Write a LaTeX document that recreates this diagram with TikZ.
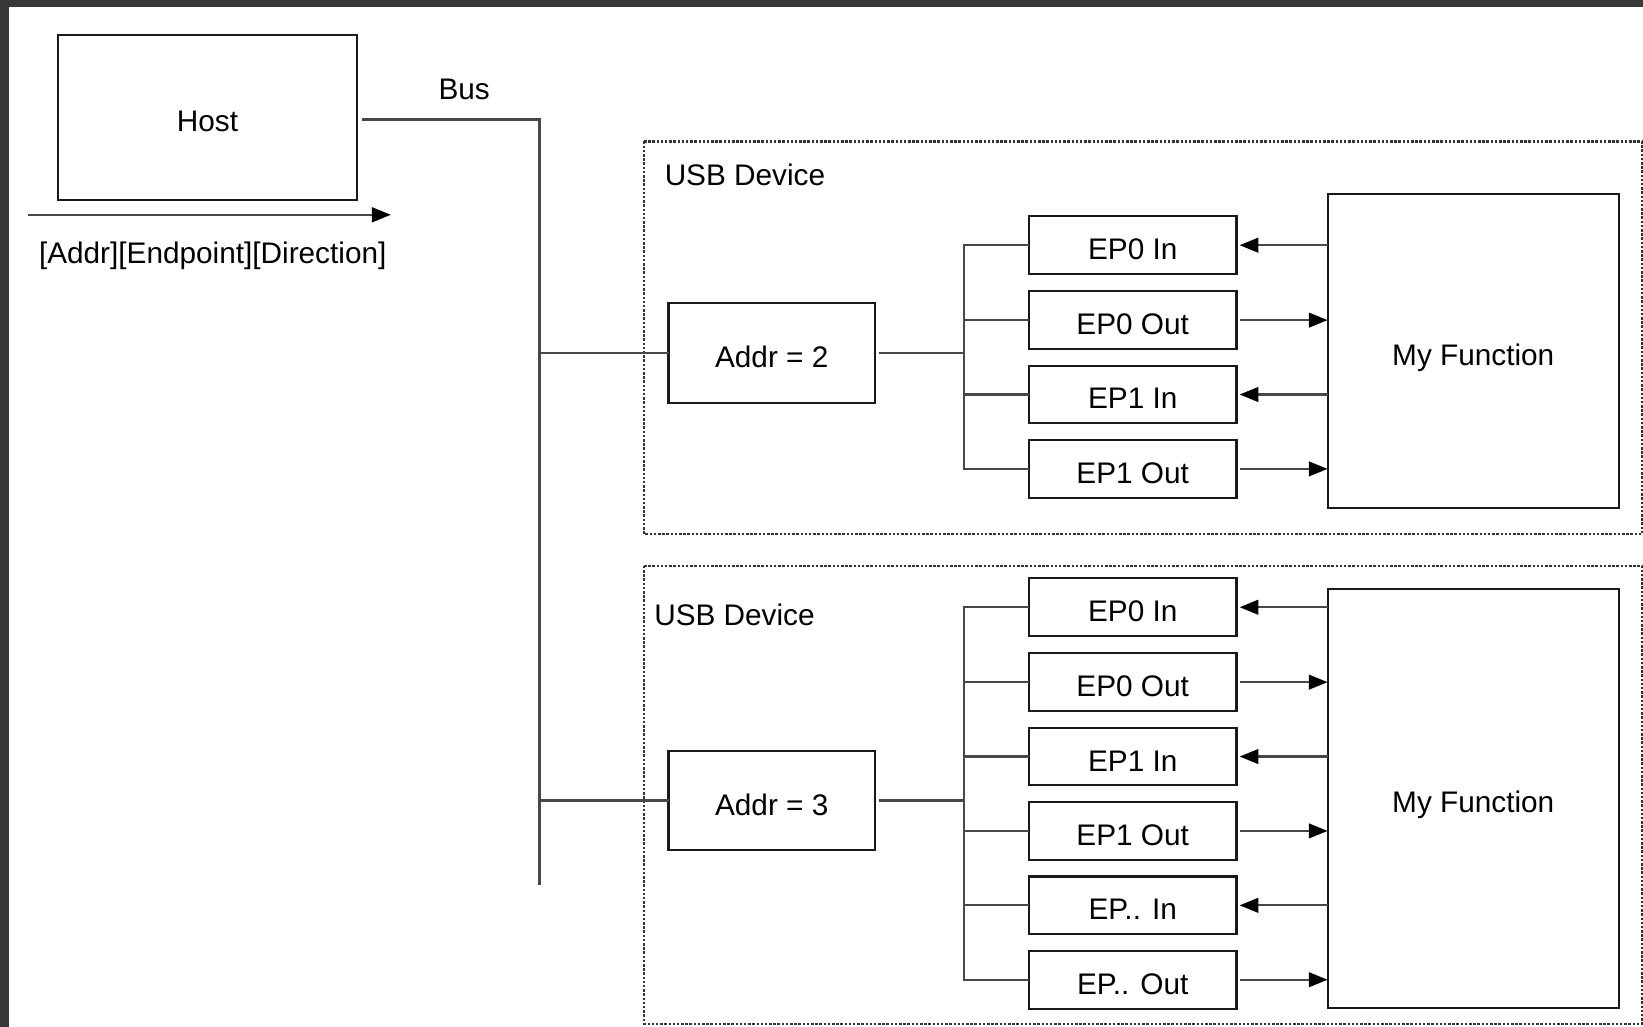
\documentclass[tikz,border=0pt]{standalone}
\usepackage{fontspec}
\setmainfont{Liberation Sans}
\usetikzlibrary{arrows.meta}
\begin{document}
\begin{tikzpicture}[x=0.5pt,y=-0.5pt,
  box/.style={draw=black!90,line width=1pt,fill=white,inner sep=0pt,outer sep=0pt,font=\fontsize{14.2}{16}\selectfont,text height=13.8pt,text depth=0pt},
  epbox/.style={box,minimum width=99pt,minimum height=27.5pt},
  addrbox/.style={box,minimum width=98.5pt,minimum height=47.5pt},
  funcbox/.style={box,minimum width=139pt},
  wire/.style={draw=black!72,line width=1.1pt},
  arr/.style={wire,-{Triangle[length=9pt,width=7pt,color=black,fill=black]}},
  devbox/.style={draw=black!80,line width=1pt,dash pattern=on 1.2pt off 0.8pt},
  lbl/.style={font=\fontsize{14.2}{16}\selectfont,inner sep=0pt}
]
\fill[black!78] (0,0) rectangle (1568,980);
\fill[white] (9,7) rectangle (1568,980);
\useasboundingbox (0,0) rectangle (1568,980);

% device frames
\draw[devbox] (615,135) rectangle (1567,510);
\draw[devbox] (615,540) rectangle (1567,977);

% host and bus
\node[box,minimum width=143pt,minimum height=78.5pt] (host) at (198,112) {Host};
\node[lbl] (buslbl) at (443,85) {Bus};
\coordinate (buscorner) at (515,114);
\coordinate (busend) at (515,845);
\draw[wire,shorten <=2pt] (host.east |- buscorner) -- (buscorner) -- (busend);

\coordinate (arrs) at (27,205);
\coordinate (arre) at (373,205);
\draw[arr] (arrs) -- (arre);
\node[lbl] (dirlbl) at (203,244) {[Addr][Endpoint][Direction]};

% ---- device 1
\node[lbl,anchor=west] (dev1) at (634,167) {USB Device};
\node[addrbox] (addr2) at (736.5,337) {Addr = 2};
\coordinate (b1) at (515,337);
\coordinate (j1) at (920,337);
\draw[wire] (b1) -- (addr2.west);
\draw[wire,shorten <=2pt] (addr2.east) -- (j1);

\node[epbox] (a0in) at (1081,234) {EP0 In};
\node[epbox] (a0out) at (1081,305.5) {EP0 Out};
\node[epbox] (a1in) at (1081,376.5) {EP1 In};
\node[epbox] (a1out) at (1081,447.5) {EP1 Out};
\foreach \n in {a0in,a0out,a1in,a1out} \draw[wire] (\n.west) -| (j1);

\node[funcbox,minimum height=150pt] (fn1) at (1406,335) {My Function};
\draw[arr] (fn1.west |- a0in) -- ([xshift=1.5pt]a0in.east);
\draw[arr,shorten <=1.5pt] (a0out.east) -- (fn1.west |- a0out);
\draw[arr] (fn1.west |- a1in) -- ([xshift=1.5pt]a1in.east);
\draw[arr,shorten <=1.5pt] (a1out.east) -- (fn1.west |- a1out);

% ---- device 2
\node[lbl,anchor=west] (dev2) at (624,587) {USB Device};
\node[addrbox] (addr3) at (736.5,764) {Addr = 3};
\coordinate (b2) at (515,764);
\coordinate (j2) at (920,764);
\draw[wire] (b2) -- (addr3.west);
\draw[wire,shorten <=2pt] (addr3.east) -- (j2);

\node[epbox] (c0in) at (1081,579.5) {EP0 In};
\node[epbox] (c0out) at (1081,651) {EP0 Out};
\node[epbox] (c1in) at (1081,722) {EP1 In};
\node[epbox] (c1out) at (1081,793) {EP1 Out};
\node[epbox] (cxin) at (1081,864) {EP.. In};
\node[epbox] (cxout) at (1081,935) {EP.. Out};
\foreach \n in {c0in,c0out,c1in,c1out,cxin,cxout} \draw[wire] (\n.west) -| (j2);

\node[funcbox,minimum height=200pt] (fn2) at (1406,762) {My Function};
\draw[arr] (fn2.west |- c0in) -- ([xshift=1.5pt]c0in.east);
\draw[arr,shorten <=1.5pt] (c0out.east) -- (fn2.west |- c0out);
\draw[arr] (fn2.west |- c1in) -- ([xshift=1.5pt]c1in.east);
\draw[arr,shorten <=1.5pt] (c1out.east) -- (fn2.west |- c1out);
\draw[arr] (fn2.west |- cxin) -- ([xshift=1.5pt]cxin.east);
\draw[arr,shorten <=1.5pt] (cxout.east) -- (fn2.west |- cxout);
\end{tikzpicture}
\end{document}
